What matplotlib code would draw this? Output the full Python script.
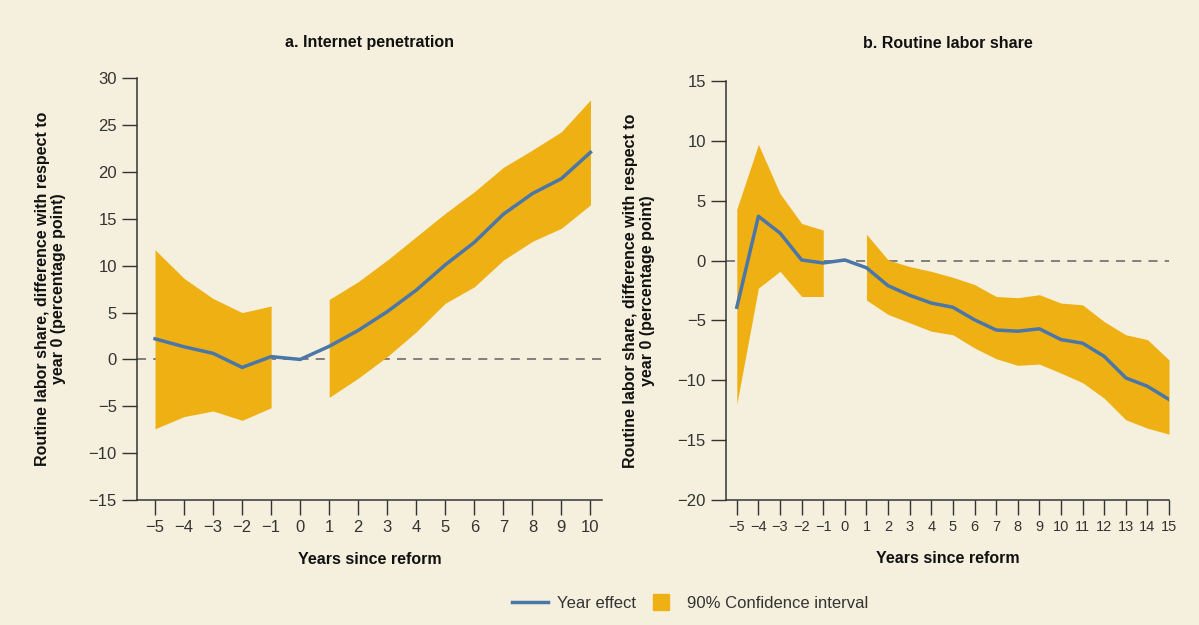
import matplotlib
matplotlib.use("Agg")
import matplotlib.pyplot as plt
from matplotlib.lines import Line2D

# panel a: internet penetration
years_a = [-5, -4, -3, -2, -1, 0, 1, 2, 3, 4, 5, 6, 7, 8, 9, 10]
effect_a = [2.2, 1.35, 0.65, -0.85, 0.3, 0.0, 1.4, 3.1, 5.1, 7.4, 10.1, 12.5, 15.5, 17.7, 19.3, 22.1]
pre_a = [-5, -4, -3, -2, -1]
pre_hi_a = [11.7, 8.65, 6.5, 5.0, 5.7]
pre_lo_a = [-7.4, -6.1, -5.5, -6.5, -5.15]
post_a = [1, 2, 3, 4, 5, 6, 7, 8, 9, 10]
post_hi_a = [6.4, 8.3, 10.6, 13.1, 15.6, 17.9, 20.5, 22.35, 24.3, 27.7]
post_lo_a = [-4.05, -2.0, 0.3, 2.95, 6.0, 7.75, 10.6, 12.6, 14.0, 16.5]

# panel b: routine labor share
years_b = list(range(-5, 16))
effect_b = [-3.9, 3.7, 2.3, 0.05, -0.2, 0.05, -0.6, -2.1, -2.9, -3.55, -3.9,
            -4.95, -5.8, -5.9, -5.7, -6.6, -6.9, -8.0, -9.8, -10.5, -11.6]
pre_b = [-5, -4, -3, -2, -1]
pre_hi_b = [4.3, 9.7, 5.6, 3.1, 2.55]
pre_lo_b = [-12.0, -2.3, -0.9, -3.0, -3.0]
post_b = list(range(1, 16))
post_hi_b = [2.2, 0.05, -0.5, -0.9, -1.4, -2.0, -3.0, -3.1, -2.85, -3.55, -3.7, -5.1, -6.2, -6.6, -8.3]
post_lo_b = [-3.3, -4.5, -5.2, -5.9, -6.2, -7.3, -8.2, -8.75, -8.65, -9.4, -10.2, -11.5, -13.3, -14.0, -14.5]

bg = "#f5f0dd"
band = "#efb014"
line_c = "#4a76a8"
ink = "#333333"

plt.rcParams['font.family'] = ['Liberation Sans', 'DejaVu Sans']

fig = plt.figure(figsize=(11.99, 6.25), dpi=100, facecolor=bg)
ax1 = fig.add_axes([0.1143, 0.2, 0.3876, 0.6747])
ax2 = fig.add_axes([0.6055, 0.2, 0.3695, 0.6704])

ylabel = "Routine labor share, difference with respect to\nyear 0 (percentage point)"


def style(ax, title, xlim, ylim, yticks, xsize, tpad):
    ax.set_facecolor(bg)
    ax.set_xlim(*xlim)
    ax.set_ylim(*ylim)
    ax.set_yticks(yticks)
    for s in ['top', 'right']:
        ax.spines[s].set_visible(False)
    for s in ['left', 'bottom']:
        ax.spines[s].set_color(ink)
        ax.spines[s].set_linewidth(1.1)
    ax.tick_params(direction='out', length=11, width=1.0, color=ink,
                   labelcolor=ink, labelsize=12)
    ax.tick_params(axis='x', labelsize=xsize)
    ax.axhline(0, color="#777777", lw=1.3, ls=(0, (5, 4)), zorder=1)
    ax.set_title(title, fontsize=11.5, fontweight='bold', color="#111111", pad=tpad)
    ax.set_xlabel("Years since reform", fontsize=11.5, fontweight='bold', color="#111111", labelpad=12)
    ax.set_ylabel(ylabel, fontsize=11.5, fontweight='bold', color="#111111", labelpad=16,
                  linespacing=1.15)


style(ax1, "a. Internet penetration", (-5.62, 10.39), (-15, 30), range(-15, 31, 5), 12, 22.6)
ax1.set_xticks(years_a)
ax1.fill_between(pre_a, pre_lo_a, pre_hi_a, color=band, lw=0, zorder=2)
ax1.fill_between(post_a, post_lo_a, post_hi_a, color=band, lw=0, zorder=2)
ax1.plot(years_a, effect_a, color=line_c, lw=2.5, zorder=3)

style(ax2, "b. Routine labor share", (-5.5, 15.0), (-20, 15), range(-20, 16, 5), 10.5, 23.8)
ax2.set_xticks(years_b)
ax2.fill_between(pre_b, pre_lo_b, pre_hi_b, color=band, lw=0, zorder=2)
ax2.fill_between(post_b, post_lo_b, post_hi_b, color=band, lw=0, zorder=2)
ax2.plot(years_b, effect_b, color=line_c, lw=2.5, zorder=3)

handles = [Line2D([0], [0], color=line_c, lw=2.5),
           Line2D([0], [0], color=band, ls='none', marker='s', markersize=11)]
fig.legend(handles, ["Year effect", "90% Confidence interval"], loc='center',
           bbox_to_anchor=(0.5755, 0.035), ncol=2, frameon=False, fontsize=12,
           handlelength=2.2, columnspacing=0.4, handletextpad=0.5,
           labelcolor=ink)

fig.savefig("out.png", dpi=100, facecolor=bg)
